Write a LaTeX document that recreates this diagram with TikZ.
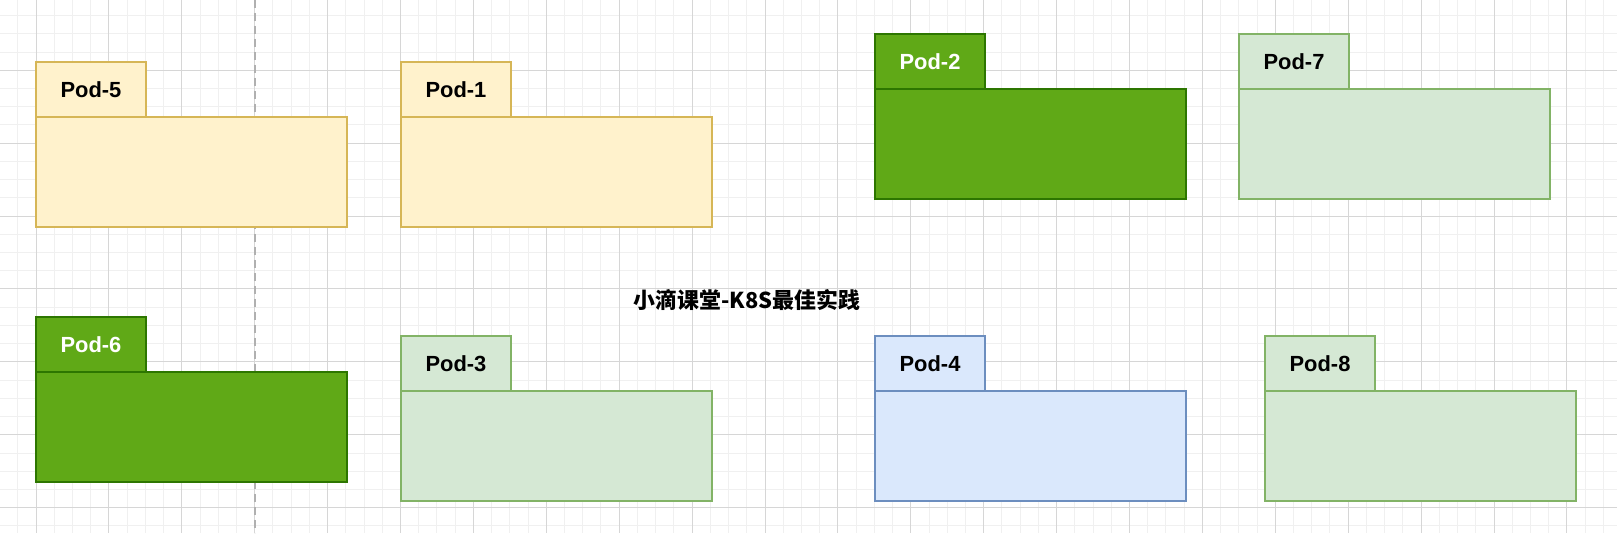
\documentclass[tikz,border=0pt]{standalone}
\usepackage{fontspec}
\setmainfont{Liberation Sans}
\newfontfamily\cjk{Noto Sans CJK SC}
\definecolor{ylfill}{HTML}{FFF2CC}
\definecolor{yldraw}{HTML}{D6B656}
\definecolor{dgfill}{HTML}{60A917}
\definecolor{dgdraw}{HTML}{2D7600}
\definecolor{lgfill}{HTML}{D5E8D4}
\definecolor{lgdraw}{HTML}{82B366}
\definecolor{blfill}{HTML}{DAE8FC}
\definecolor{bldraw}{HTML}{6C8EBF}
\definecolor{minorcol}{HTML}{F0F0F0}
\definecolor{majorcol}{HTML}{D6D6D6}
\definecolor{dashcol}{HTML}{B0B0B0}
\tikzset{
  minorgrid/.style={draw=minorcol, line width=0.5pt},
  majorgrid/.style={draw=majorcol, line width=0.5pt},
  podbody/.style={draw, line width=0.9pt, inner sep=0pt, outer sep=0pt, minimum width=155.5pt, minimum height=55pt},
  podtab/.style={draw, line width=0.9pt, inner sep=0pt, outer sep=0pt, minimum width=55pt, minimum height=27.5pt, font=\fontsize{10.95}{13}\selectfont\bfseries},
  yellowpod/.style={fill=ylfill, draw=yldraw, text=black},
  darkpod/.style={fill=dgfill, draw=dgdraw, text=white},
  lightpod/.style={fill=lgfill, draw=lgdraw, text=black},
  bluepod/.style={fill=blfill, draw=bldraw, text=black},
  titletext/.style={font=\cjk\fontsize{10.95}{13}\selectfont\bfseries, inner sep=0pt},
  divider/.style={draw=dashcol, line width=0.6pt, dash pattern=on 4pt off 2.5pt}
}
\newcommand\podbox[5]{%
  \node[podbody,#4,anchor=north west] (#1body) at (#2,#3+55) {};
  \node[podtab,#4,anchor=north west] (#1tab) at (#2,#3) {#5};
}
\begin{document}
\begin{tikzpicture}[x=0.5pt,y=-0.5pt]
\useasboundingbox (0,0) rectangle (1617,549);
\fill[white] (0,0) rectangle (1617,549);
\begin{scope}
\clip (0,0) rectangle (1617,533);
\foreach \i in {0,...,89} \draw[minorgrid] ({-0.45+18.225*\i},0) -- ++(0,533);
\foreach \j in {0,...,30} \draw[minorgrid] (0,{-2.6+18.225*\j}) -- ++(1617,0);
\foreach \i in {0,...,21} \draw[majorgrid] ({36+72.9*\i},0) -- ++(0,533);
\foreach \j in {0,...,6} \draw[majorgrid] (0,{70.3+72.9*\j}) -- ++(1617,0);
\end{scope}
\coordinate (dtop) at (255,0);
\coordinate (dbot) at (255,533);
\draw[divider] (dtop) -- (dbot);
\podbox{p5}{36}{62}{yellowpod}{Pod-5}
\podbox{p1}{401}{62}{yellowpod}{Pod-1}
\podbox{p2}{875}{34}{darkpod}{Pod-2}
\podbox{p7}{1239}{34}{lightpod}{Pod-7}
\podbox{p6}{36}{317}{darkpod}{Pod-6}
\podbox{p3}{401}{336}{lightpod}{Pod-3}
\podbox{p4}{875}{336}{bluepod}{Pod-4}
\podbox{p8}{1265}{336}{lightpod}{Pod-8}
\node[titletext] (title) at (747,300) {小滴课堂-K8S最佳实践};
\end{tikzpicture}
\end{document}
